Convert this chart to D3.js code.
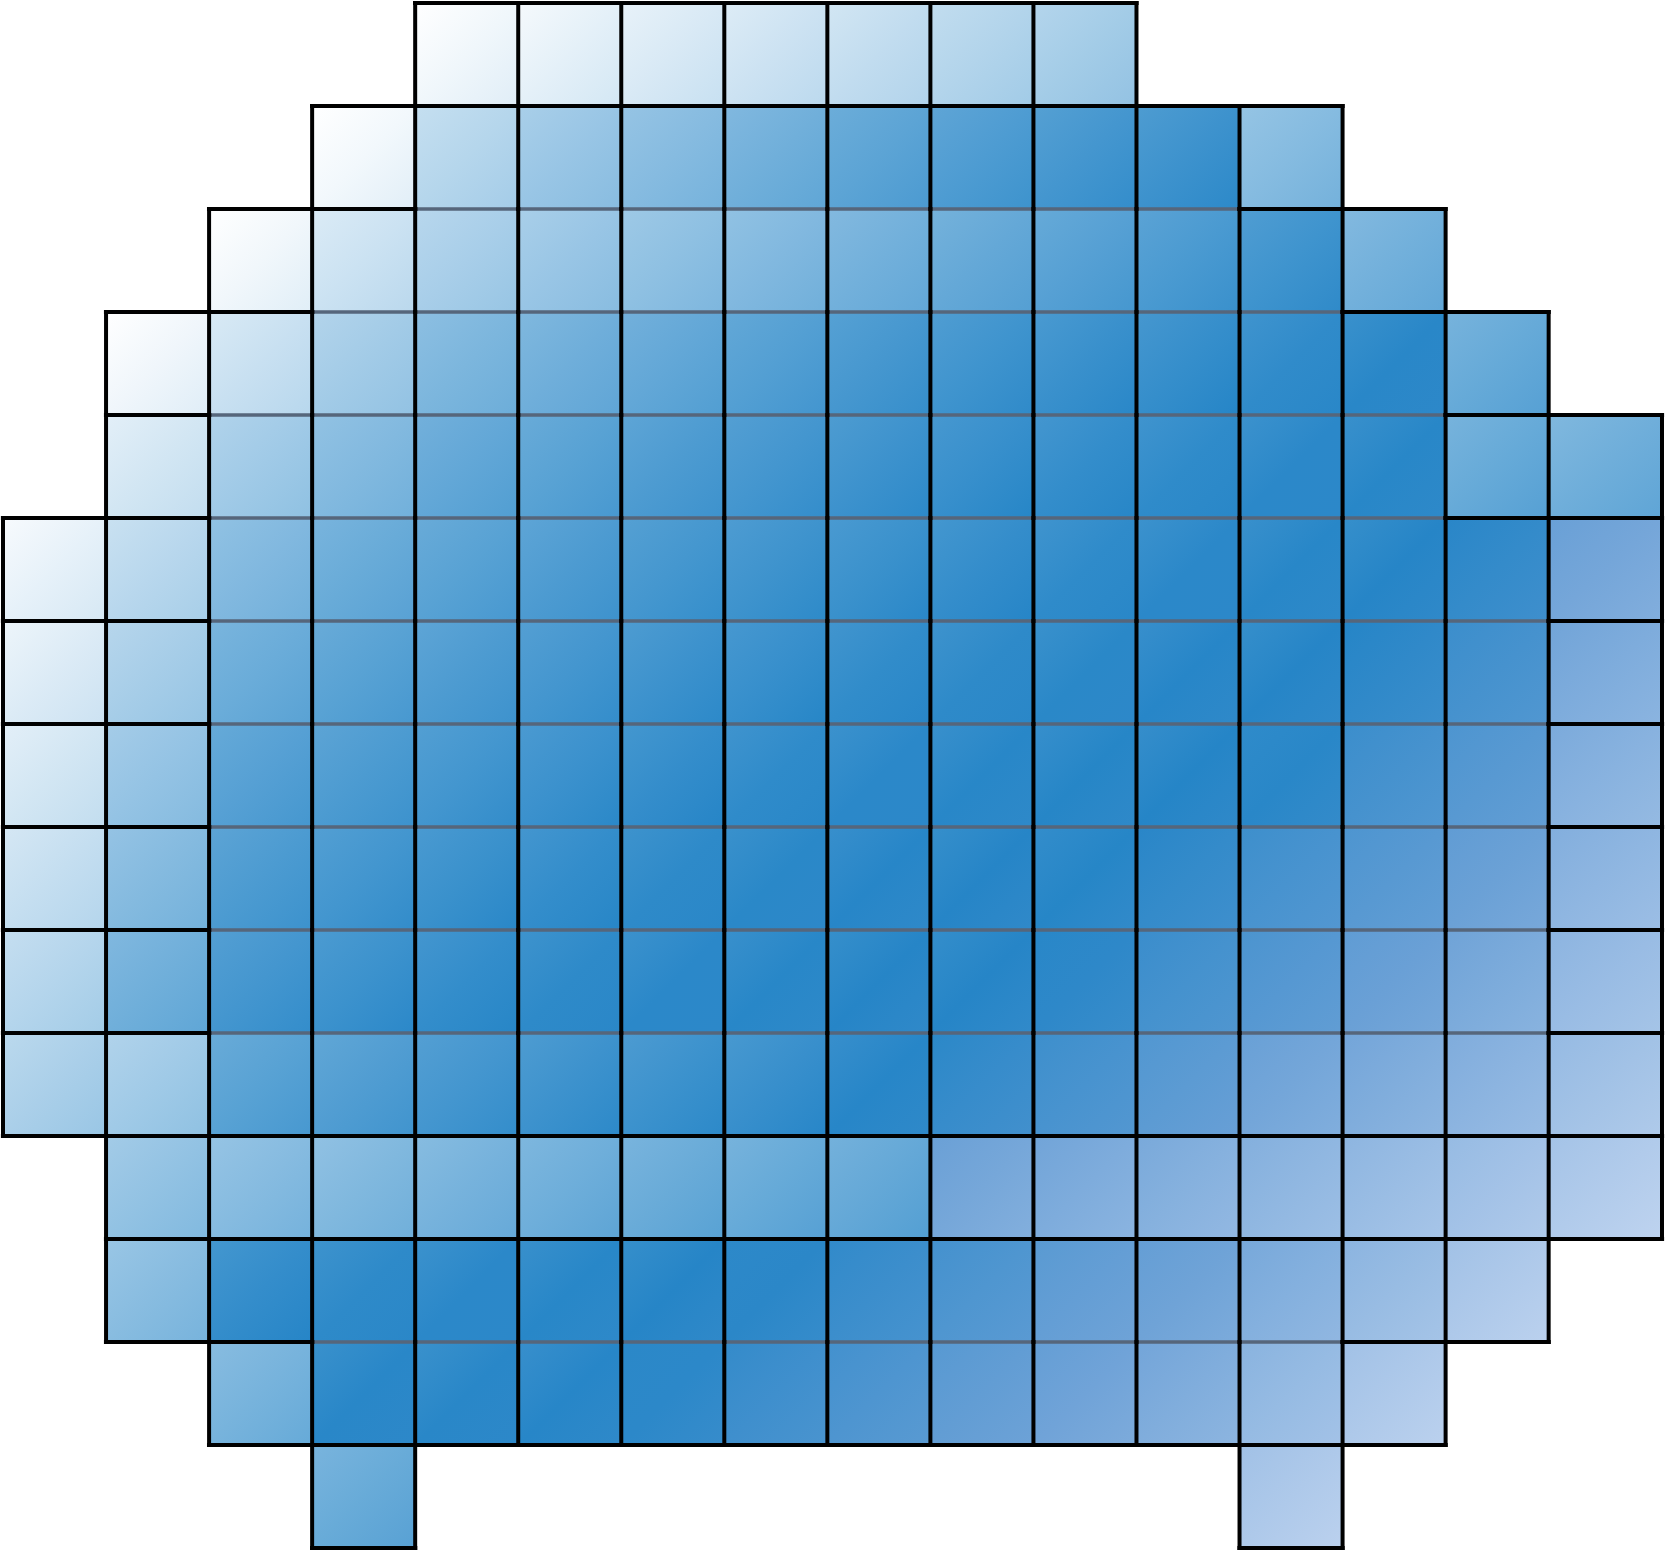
<!DOCTYPE html>
<html>
<head>
<meta charset="utf-8">
<script src="https://cdn.jsdelivr.net/npm/d3@7"></script>
<style>
  html, body { margin: 0; padding: 0; background: #ffffff; }
  svg { display: block; }
</style>
</head>
<body>
<svg id="chart" width="1665" height="1552"></svg>
<script>
// ---- data ----
// column bin edges (the last column is a little wider)
const colEdges = [0, 1, 2, 3, 4, 5, 6, 7, 8, 9, 10, 11, 12, 13, 14, 15, 16.1];
const rowEdges = [0, 1, 2, 3, 4, 5, 6, 7, 8, 9, 10, 11, 12, 13, 14, 15];

// cell values (null = no cell)
const n = null;
const values = [
  [n, n, n, n, 3.4, 6.2, 9, 11.7, 14.2, 17.7, 21, n, n, n, n, n],
  [n, n, n, 3, 17, 23.6, 27.8, 32.8, 37.5, 40.6, 42.9, 44.5, 28, n, n, n],
  [n, n, 3.3, 12, 20, 23.6, 26, 29, 32.3, 35.5, 38.8, 41.5, 44, 32.3, n, n],
  [n, 3.5, 12.6, 21.3, 30, 33, 36, 39.5, 42.5, 44, 45.3, 46.3, 47.5, 49, 35, n],
  [n, 10.3, 21.8, 28.7, 36, 38.3, 40.8, 43, 44.5, 45.9, 46.8, 47.7, 48.6, 49.3, 35, 33],
  [5.7, 16.3, 29, 34.6, 38.3, 40.8, 42.7, 44.3, 45.2, 46.6, 47.7, 48.6, 49.3, 49.8, 55, 77],
  [8, 20.4, 34.2, 38.3, 40.8, 43, 44.5, 45.9, 47.2, 48, 48.9, 49.5, 49.8, 53.8, 61.3, 79.7],
  [10.3, 24.5, 38.8, 41, 43.2, 45, 46.6, 47.7, 48.6, 49.3, 49.7, 50, 51.5, 61.3, 67.5, 82.6],
  [13.5, 28.2, 41, 43.2, 45.2, 46.8, 48, 48.9, 49.5, 49.8, 50.5, 55, 62, 67.5, 74, 84.7],
  [17.2, 32.8, 43, 44.8, 46.8, 48, 48.6, 49.3, 49.8, 50.3, 53, 61, 66.7, 73.6, 79.2, 87.5],
  [19.5, 21.8, 38.3, 40, 43, 44.5, 44.7, 45.7, 49.5, 56, 62, 69, 76.8, 80.3, 83.8, 90.3],
  [n, 25, 27.8, 29.1, 31.4, 33.3, 34.5, 35, 35.6, 77.3, 79.7, 82, 85, 88, 90.6, 94.7],
  [n, 27.3, 46.6, 48, 48.6, 49.3, 49.8, 52, 58, 64.5, 71.6, 75.3, 81.5, 87.4, 93.8, n],
  [n, n, 31.2, 49, 49, 49.5, 52.5, 59, 64, 70.9, 75.5, 80.3, 86.8, 93.8, n, n],
  [n, n, n, 34.6, n, n, n, n, n, n, n, n, 93.8, n, n, n]
];

// cell groups: 'e' = rim cell, 'b' = body cell, '.' = empty
const kinds = [
  "....eeeeeee.....",
  "...ebbbbbbbbe...",
  "..ebbbbbbbbbbe..",
  ".ebbbbbbbbbbbbe.",
  ".ebbbbbbbbbbbbee",
  "eebbbbbbbbbbbbbe",
  "eebbbbbbbbbbbbbe",
  "eebbbbbbbbbbbbbe",
  "eebbbbbbbbbbbbbe",
  "eebbbbbbbbbbbbbe",
  "eebbbbbbbbbbbbbe",
  ".eeeeeeeeeeeeeee",
  ".ebbbbbbbbbbbbe.",
  "..ebbbbbbbbbbe..",
  "...e........e..."
];

const colorDomain = [0, 50, 75, 100];
const colorRange = ["#ffffff", "#2585c7", "#6ea2d7", "#c3d6f0"];

// ---- drawing ----
const x = d3.scaleLinear().domain([colEdges[0], colEdges[colEdges.length - 1]]).range([3, 1662]);
const y = d3.scaleLinear().domain([rowEdges[0], rowEdges[rowEdges.length - 1]]).range([3, 1548]);
const color = d3.scaleLinear().domain(colorDomain).range(colorRange).clamp(true);
const spread = 3.8;

const svg = d3.select("#chart");
const defs = svg.append("defs");

const cells = [];
values.forEach((row, r) => row.forEach((v, c) => {
  if (v !== null) cells.push({ r, c, v, kind: kinds[r][c] });
}));
const has = (r, c) => r >= 0 && r < values.length && c >= 0 && c < 16 && values[r][c] !== null;
const isBody = (r, c) => has(r, c) && kinds[r][c] === "b";

const grads = defs.selectAll("linearGradient").data(cells).join("linearGradient")
  .attr("id", d => `g-${d.r}-${d.c}`)
  .attr("x1", 0).attr("y1", 0).attr("x2", 1).attr("y2", 1);
grads.append("stop").attr("offset", "0%").attr("stop-color", d => color(d.v - spread));
grads.append("stop").attr("offset", "50%").attr("stop-color", d => color(d.v));
grads.append("stop").attr("offset", "100%").attr("stop-color", d => color(d.v + spread));

svg.append("g").selectAll("rect").data(cells).join("rect")
  .attr("x", d => x(colEdges[d.c]))
  .attr("y", d => y(rowEdges[d.r]))
  .attr("width", d => x(colEdges[d.c + 1]) - x(colEdges[d.c]))
  .attr("height", d => y(rowEdges[d.r + 1]) - y(rowEdges[d.r]))
  .attr("fill", d => `url(#g-${d.r}-${d.c})`);

// edges
const grayH = [], blackH = [], blackV = [];
cells.forEach(d => {
  const x0 = x(colEdges[d.c]), x1 = x(colEdges[d.c + 1]);
  const y0 = y(rowEdges[d.r]), y1 = y(rowEdges[d.r + 1]);
  if (isBody(d.r, d.c) && isBody(d.r - 1, d.c)) grayH.push([x0, y0, x1, y0]);
  else blackH.push([x0, y0, x1, y0]);
  if (!has(d.r + 1, d.c)) blackH.push([x0, y1, x1, y1]);
  blackV.push([x0, y0, x0, y1]);
  if (!has(d.r, d.c + 1)) blackV.push([x1, y0, x1, y1]);
});

const lines = svg.append("g");
lines.selectAll("line.gray").data(grayH).join("line").attr("class", "gray")
  .attr("x1", d => d[0]).attr("y1", d => d[1]).attr("x2", d => d[2]).attr("y2", d => d[3])
  .attr("stroke", "#56667b").attr("stroke-width", 3.6);
lines.selectAll("line.bh").data(blackH).join("line").attr("class", "bh")
  .attr("x1", d => d[0]).attr("y1", d => d[1]).attr("x2", d => d[2]).attr("y2", d => d[3])
  .attr("stroke", "#000").attr("stroke-width", 4.2).attr("stroke-linecap", "square");
lines.selectAll("line.bv").data(blackV).join("line").attr("class", "bv")
  .attr("x1", d => d[0]).attr("y1", d => d[1]).attr("x2", d => d[2]).attr("y2", d => d[3])
  .attr("stroke", "#000").attr("stroke-width", 4.0).attr("stroke-linecap", "square");
</script>
</body>
</html>
